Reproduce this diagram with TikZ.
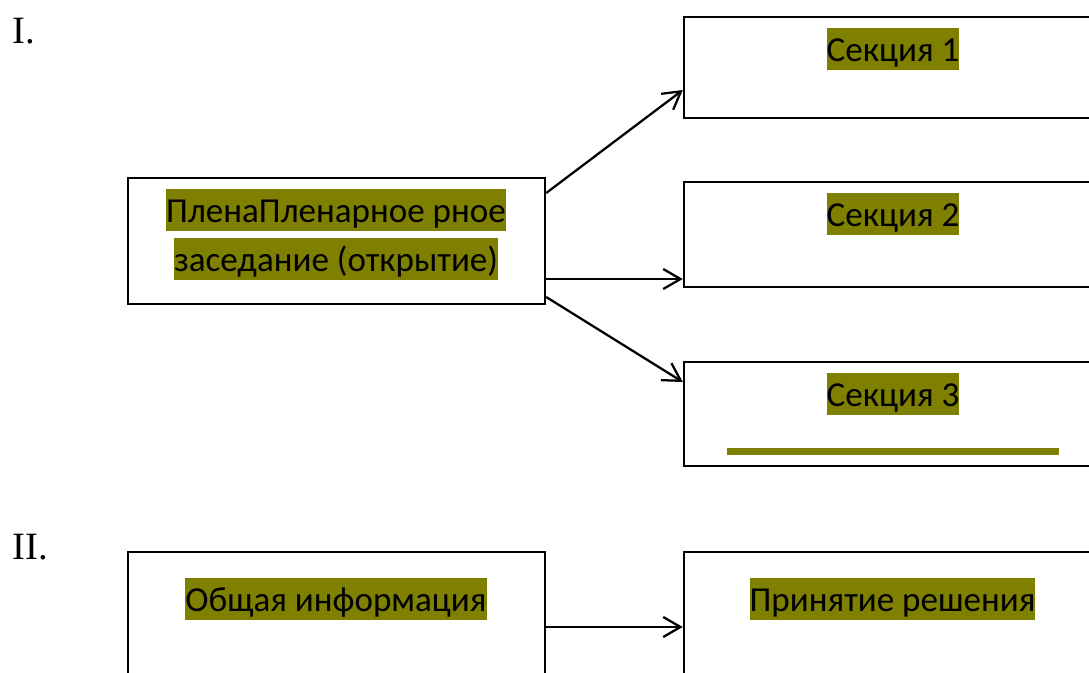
\documentclass[tikz,border=0pt]{standalone}
\usepackage{fontspec}
\setmainfont{Carlito}
\newfontfamily\romanfont{Liberation Serif}
\usetikzlibrary{arrows.meta,calc}
\definecolor{hlolive}{RGB}{128,128,0}
\begin{document}
\begin{tikzpicture}[x=0.75pt,y=-0.75pt,
  boxnode/.style={draw=black,line width=1.8pt,rectangle,inner sep=0pt,fill=none},
  hltext/.style={fill=hlolive,inner sep=0pt,text height=25.04pt,text depth=7.07pt,
     font=\fontsize{26.3pt}{32pt}\selectfont,anchor=base},
  roman/.style={font=\romanfont\fontsize{29pt}{34pt}\selectfont,anchor=base west,inner sep=0pt},
  conn/.style={line width=1.7pt,-{Straight Barb[length=13pt,width=15pt,line width=1.7pt]}}]
\useasboundingbox (0,0) rectangle (1089,672);
\clip (0,0) rectangle (1089,672);
% labels
\node[roman] (lI) at (12,43) {I.};
\node[roman] (lII) at (12,559) {II.};
% boxes
\node[boxnode,minimum width=312.75pt,minimum height=94.5pt] (plen) at (336.5,241) {};
\node[boxnode,minimum width=312.75pt,minimum height=75.75pt] (s1) at (892.5,67.5) {};
\node[boxnode,minimum width=312.75pt,minimum height=78.75pt] (s2) at (892.5,234.5) {};
\node[boxnode,minimum width=312.75pt,minimum height=78pt] (s3) at (892.5,414) {};
\node[boxnode,minimum width=312.75pt,minimum height=111pt] (gen) at (336.5,626) {};
\node[boxnode,minimum width=312.75pt,minimum height=111pt] (dec) at (892.5,626) {};
% texts
\node[hltext] (p1) at (336,222) {ПленаПленарное рное};
\node[hltext] (p2) at (336,271) {заседание (открытие)};
\node[hltext] (s1t) at (893,61) {Секция 1};
\node[hltext] (s2t) at (893,226) {Секция 2};
\node[hltext] (s3t) at (893,406) {Секция 3};
\node[hltext] (gt) at (336,611) {Общая информация};
\node[hltext] (dt) at (892.5,611) {Принятие решения};
\fill[hlolive] (727,448) rectangle (1059,455);
% connectors
\draw[conn] ($(plen.east)+(0,-48)$) -- ($(s1.west)+(0,22.5)$);
\draw[conn] ($(plen.east)+(0,38)$) -- ($(s2.west)+(0,44.5)$);
\draw[conn] ($(plen.east)+(0,56)$) -- ($(s3.west)+(0,-32)$);
\draw[conn] ($(gen.east)+(0,1)$) -- ($(dec.west)+(0,1)$);
\end{tikzpicture}
\end{document}
